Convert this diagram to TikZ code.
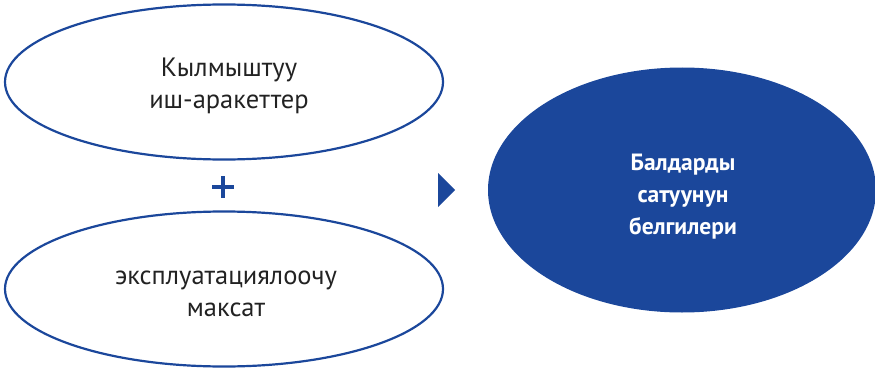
\documentclass[tikz,border=0pt]{standalone}
\usepackage{fontspec}
\setmainfont{PT Sans}
\usetikzlibrary{shapes.geometric,calc}
\definecolor{mainblue}{HTML}{1B479B}
\definecolor{txt}{HTML}{222222}
\begin{document}
\begin{tikzpicture}[x=1pt,y=-1pt,
  outlineell/.style={ellipse,draw=mainblue,line width=2.2pt,minimum width=438pt,minimum height=155pt,inner sep=0pt},
  fillell/.style={ellipse,fill=mainblue,minimum width=388pt,minimum height=245pt,inner sep=0pt},
  lbl/.style={align=center,text=txt,font=\fontsize{26.5}{31.5}\selectfont},
  blbl/.style={align=center,text=white,font=\bfseries\fontsize{23.5}{32}\selectfont}]
\useasboundingbox (0,0) rectangle (875,369);
\node[outlineell] (top) at (224,82) {};
\node[outlineell] (bot) at (224,289) {};
\node[fillell] (res) at (682,190) {};
\node[lbl] (toptxt) at (229,86) {Кылмыштуу\\иш-аракеттер};
\node[lbl] (bottxt) at (226,294) {эксплуатациялоочу\\максат};
\node[blbl] (restxt) at (683,197) {Балдарды\\сатуунун\\белгилери};
\coordinate (plus) at (223,187);
\draw[mainblue,line width=3.2pt] ($(plus)+(-11,0)$) -- ($(plus)+(11,0)$) ($(plus)+(0,-11)$) -- ($(plus)+(0,11)$);
\fill[mainblue] (438,173) -- (455,190) -- (438,207) -- cycle;
\end{tikzpicture}
\end{document}
